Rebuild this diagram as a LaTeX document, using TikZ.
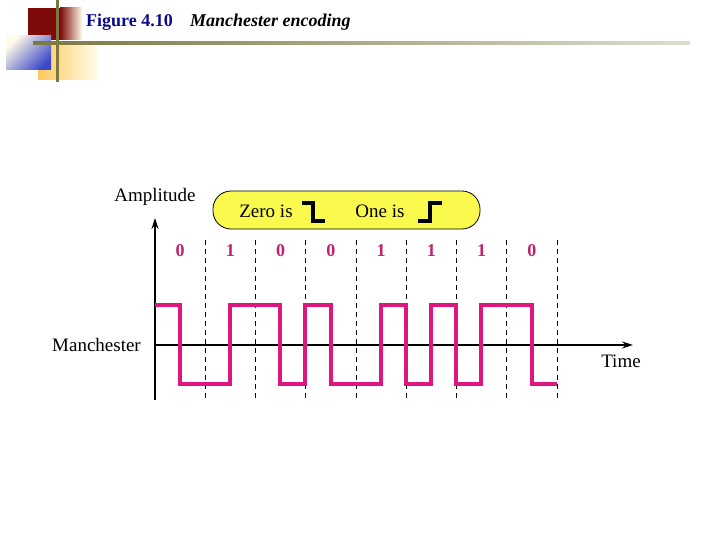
\documentclass[tikz,border=0pt]{standalone}
\usepackage{fontspec}
\setmainfont{Liberation Serif}
\usetikzlibrary{arrows.meta}
\definecolor{navy}{HTML}{0A0A8C}
\definecolor{olive}{HTML}{7A7840}
\definecolor{darkred}{HTML}{7E0A0A}
\definecolor{cream}{HTML}{FFFBE8}
\definecolor{slateblue}{HTML}{3C48C8}
\definecolor{orangelight}{HTML}{FFC85A}
\definecolor{signal}{HTML}{DE1780}
\definecolor{bitpink}{HTML}{C0206E}
\definecolor{legendyellow}{HTML}{FAFA4E}

\begin{document}
\begin{tikzpicture}[x=1pt,y=-1pt,
  label/.style={font=\fontsize{19}{21}\selectfont,inner sep=0pt},
  bit/.style={font=\fontsize{18}{20}\selectfont\bfseries,text=bitpink,inner sep=0pt},
  legend/.style={draw=black,thick,fill=legendyellow,rounded corners=18pt,
    minimum width=267pt,minimum height=38pt},
  axis/.style={-{Stealth[length=11pt,width=7pt]},line width=1.3pt,draw=black},
  slot/.style={dashed,line width=1pt,dash pattern=on 5pt off 4pt},
  wave/.style={line width=4pt,draw=signal,line join=miter},
  icon/.style={line width=4pt,draw=black}
]
\useasboundingbox (0,0) rectangle (720,540);
% header decoration
\shade[left color=orangelight,right color=cream] (38,42) rectangle (97,80);
\fill[darkred] (28,8) rectangle (60,40);
\shade[left color=darkred,right color=cream] (60,8) rectangle (82,40);
\shade[top color=cream,bottom color=slateblue,shading angle=45] (6,36) rectangle (51,70);
\fill[olive] (55.5,0) rectangle (58.5,82);
\shade[left color=olive,right color=olive!25] (33,41.5) rectangle (690,44.5);
\node[anchor=west,inner sep=0pt,font=\fontsize{18}{20}\selectfont\bfseries,text=navy]
  (fig) at (86,22) {Figure 4.10};
\node[anchor=west,inner sep=0pt,font=\fontsize{18}{20}\selectfont\bfseries\itshape]
  (caption) at (190,22) {Manchester encoding};
% axes
\coordinate (origin) at (155,345);
\coordinate (ytop) at (155,218);
\coordinate (ybot) at (155,400);
\coordinate (xend) at (633,345);
\draw[axis] (ybot) -- (ytop);
\draw[axis] (origin) -- (xend);
\node[label] (amp) at (155,197) {Amplitude};
\node[label,anchor=east] (man) at (141,345) {Manchester};
\node[label] (time) at (621,361) {Time};
% bit slots and values
\foreach \i in {1,...,8}
  \draw[slot] ({155+50.25*\i},240) -- ({155+50.25*\i},400);
\foreach \b [count=\i from 0] in {0,1,0,0,1,1,1,0}
  \node[bit] (bit\i) at ({180+50.25*\i},251) {\b};
% legend
\node[legend] (key) at (346.5,210) {};
\node[label] (zero) at (266,211) {Zero is};
\node[label] (one) at (380,211) {One is};
\draw[icon] (302,203) -- (313,203) -- (313,221) -- (325,221);
\draw[icon] (418,221) -- (430,221) -- (430,203) -- (442,203);
% signal
\draw[wave] (155,305) -- (180,305) -- (180,384) -- (230,384) -- (230,305)
  -- (280,305) -- (280,384) -- (305,384) -- (305,305) -- (331,305)
  -- (331,384) -- (381,384) -- (381,305) -- (406,305) -- (406,384)
  -- (431,384) -- (431,305) -- (456,305) -- (456,384) -- (481,384)
  -- (481,305) -- (532,305) -- (532,384) -- (557,384);
\end{tikzpicture}
\end{document}
